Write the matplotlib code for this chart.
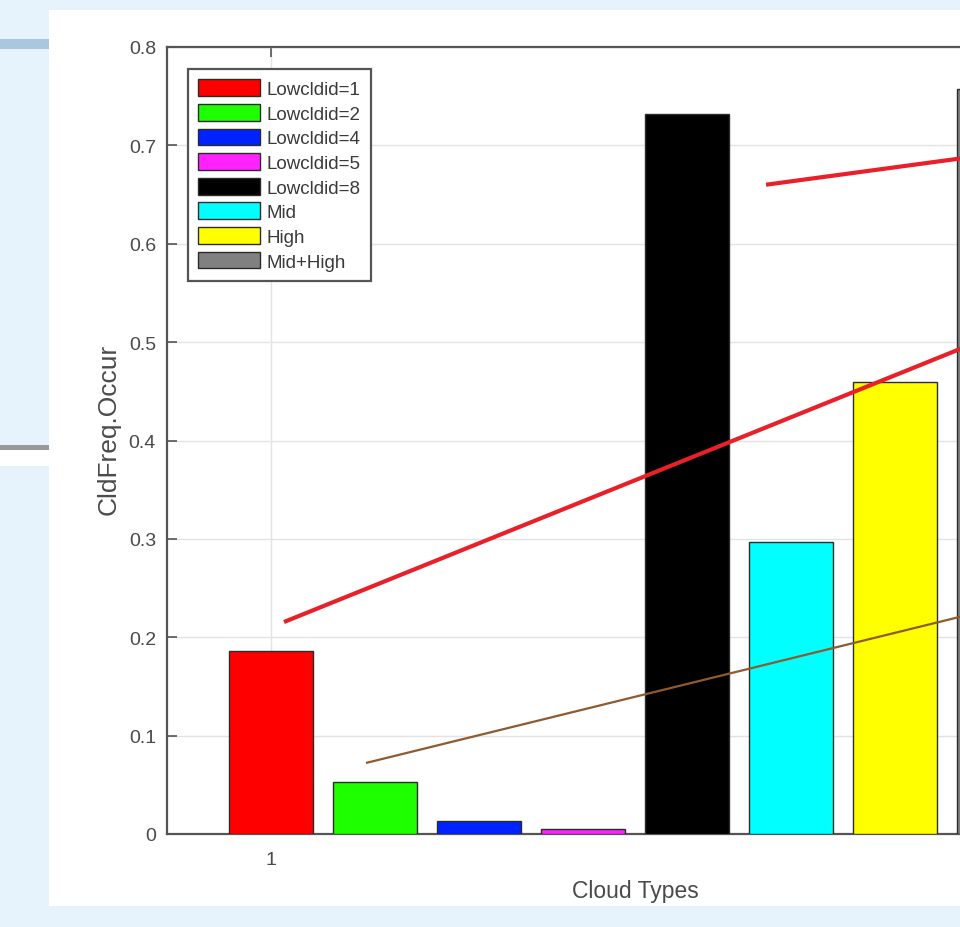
import matplotlib
matplotlib.use("Agg")
import matplotlib.pyplot as plt
from matplotlib.patches import Rectangle

# ---- data ----
series_labels = ["Lowcldid=1", "Lowcldid=2", "Lowcldid=4", "Lowcldid=5",
                 "Lowcldid=8", "Mid", "High", "Mid+High"]
series_values = [0.186, 0.053, 0.013, 0.005, 0.732, 0.297, 0.459, 0.757]
series_colors = ["#ff0000", "#1eff00", "#0022ff", "#ff22ff",
                 "#000000", "#00ffff", "#ffff00", "#808080"]
x_tick_labels = ["1"]
y_ticks = [0, 0.1, 0.2, 0.3, 0.4, 0.5, 0.6, 0.7, 0.8]
y_tick_labels = ["0", "0.1", "0.2", "0.3", "0.4", "0.5", "0.6", "0.7", "0.8"]

# overlay annotation strokes (data coordinates)
annot_red1_x = [4.76, 7.0]
annot_red1_y = [0.660, 0.692]
annot_red2_x = [0.125, 7.0]
annot_red2_y = [0.2155, 0.509]
annot_brown_x = [0.913, 7.0]
annot_brown_y = [0.0722, 0.2305]

plt.rcParams['font.family'] = ['Liberation Sans', 'DejaVu Sans']

W, H = 960, 928
fig = plt.figure(figsize=(W / 100, H / 100), dpi=100)
fig.patch.set_facecolor("#e7f3fc")


def px_rect(x0, y0, x1, y1, color, z=0):
    fig.add_artist(Rectangle((x0 / W, 1 - y1 / H), (x1 - x0) / W, (y1 - y0) / H,
                             transform=fig.transFigure, facecolor=color,
                             edgecolor="none", zorder=z))


# page decorations behind the chart
px_rect(49, 11, 960, 907, "#ffffff")
px_rect(0, 40, 49, 50, "#a9c7df")
px_rect(0, 446, 49, 451, "#999999")
px_rect(0, 451, 49, 467, "#ffffff")

ax = fig.add_axes([167 / W, (H - 835) / H, (1103 - 167) / W, (835 - 48) / H])
ax.set_facecolor("white")

positions = list(range(len(series_values)))
for pos, val, col, lab in zip(positions, series_values, series_colors, series_labels):
    ax.bar(pos, val, width=0.81, color=col, edgecolor="#2b2b2b",
           linewidth=1.0, label=lab, zorder=3)

ax.set_xlim(-1, 8)
ax.set_ylim(0, 0.8)
ax.set_xticks([0])
ax.set_xticklabels(x_tick_labels)
ax.set_yticks(y_ticks)
ax.set_yticklabels(y_tick_labels)

ax.grid(True, color="#e3e3e3", linewidth=1.0, zorder=0)
ax.set_axisbelow(True)

for sp in ax.spines.values():
    sp.set_color("#555555")
    sp.set_linewidth(1.6)

ax.tick_params(axis="both", direction="in", length=7, width=1.2,
               color="#555555", labelcolor="#4a4a4a", labelsize=14,
               top=True, right=True)
ax.tick_params(axis="y", pad=8)
ax.tick_params(axis="x", pad=12)

ax.set_xlabel("Cloud Types", fontsize=16.5, color="#4a4a4a")
ax.set_ylabel("CldFreq.Occur", fontsize=19, color="#4a4a4a")
ax.xaxis.set_label_coords(0.5, -0.057)
ax.xaxis.label.set_va("top")
ax.yaxis.set_label_coords(-0.050, 0.515)

leg = ax.legend(loc="upper left", bbox_to_anchor=(188 / W, 1 - 70 / H),
                bbox_transform=fig.transFigure, borderaxespad=0,
                fontsize=13.5, handlelength=3.3, handleheight=1.0,
                handletextpad=0.35, labelspacing=0.31, borderpad=0.55,
                fancybox=False, framealpha=1, edgecolor="#555555")
leg.get_frame().set_linewidth(1.6)
for t in leg.get_texts():
    t.set_color("#3a3a3a")

# overlay annotation strokes
ax.plot(annot_red1_x, annot_red1_y, color="#e8202a", linewidth=3.0,
        clip_on=False, zorder=6, solid_capstyle="butt")
ax.plot(annot_red2_x, annot_red2_y, color="#e8202a", linewidth=3.0,
        clip_on=False, zorder=6, solid_capstyle="butt")
ax.plot(annot_brown_x, annot_brown_y, color="#8e5a2e", linewidth=1.6,
        clip_on=False, zorder=6, solid_capstyle="butt")

fig.savefig("out.png", dpi=100, facecolor=fig.get_facecolor())
